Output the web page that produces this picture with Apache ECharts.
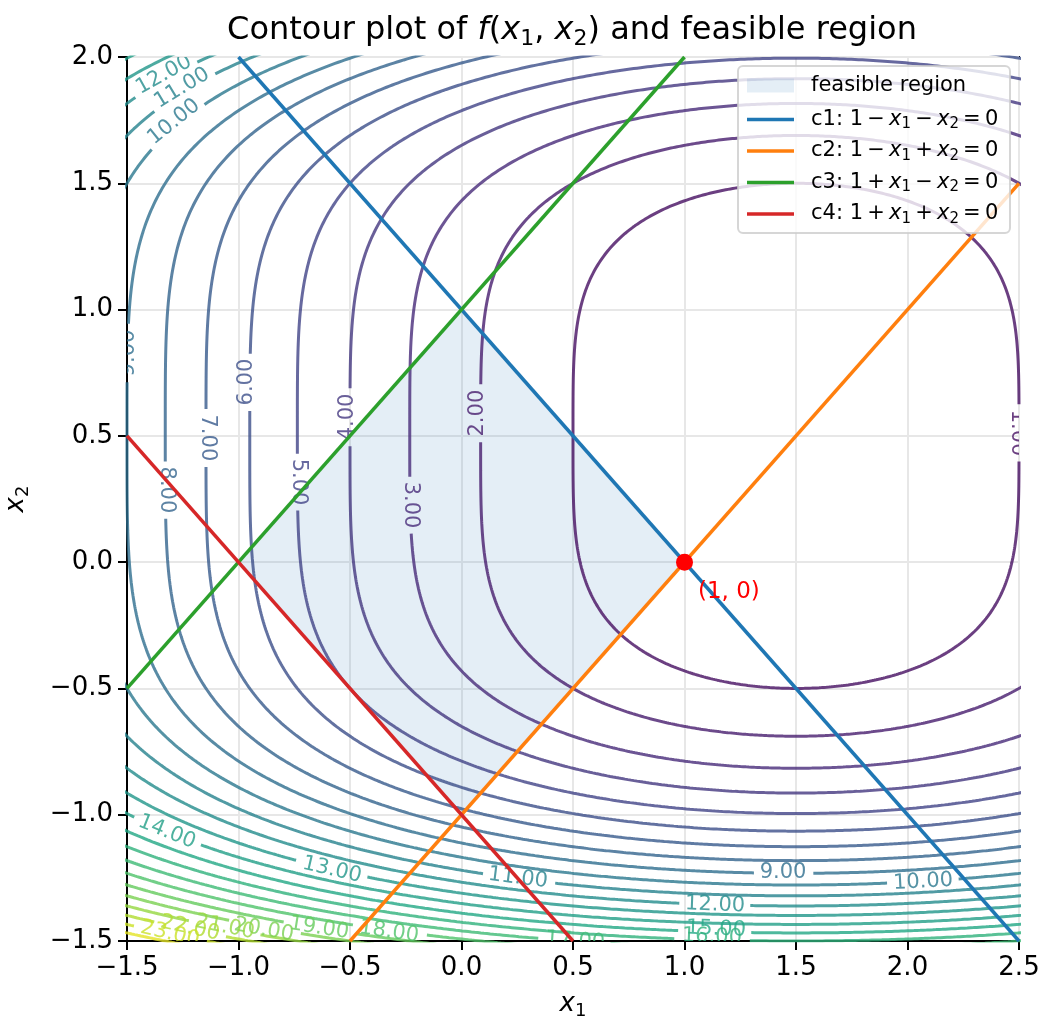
<!DOCTYPE html>
<html><head><meta charset="utf-8">
<script src="https://cdn.jsdelivr.net/npm/echarts@6/dist/echarts.min.js"></script>
<style>html,body{margin:0;padding:0;background:#fff}#chart{width:1042px;height:1023px}</style>
</head><body><div id="chart"></div>
<script>
// ---------------- data ----------------
// f(x1, x2) = (x1 - 3/2)^2 + (x2 - 1/2)^4
const fCenterX1 = 1.5;
const fCenterX2 = 0.5;
const contourLevels = [1,2,3,4,5,6,7,8,9,10,11,12,13,14,15,16,17,18,19,20,21,22,23,24];
const levelMin = 0, levelMax = 25;

const xTicks = [-1.5,-1.0,-0.5,0.0,0.5,1.0,1.5,2.0,2.5];
const yTicks = [-1.5,-1.0,-0.5,0.0,0.5,1.0,1.5,2.0];

const feasibleX1 = [1, 0, -1, 0];
const feasibleX2 = [0, 1, 0, -1];

const c1X1 = [-1.0, 2.5], c1X2 = [2.0, -1.5];
const c2X1 = [-0.5, 2.5], c2X2 = [-1.5, 1.5];
const c3X1 = [-1.5, 1.0], c3X2 = [-0.5, 2.0];
const c4X1 = [-1.5, 0.5], c4X2 = [0.5, -1.5];

const optimumX1 = [1.0];
const optimumX2 = [0.0];

// inline contour labels
const labelLevels = [1, 2, 3, 4, 5, 6, 7, 8, 9, 10, 11, 12, 14, 13, 11, 9, 10, 12, 15, 16, 17, 18, 19, 20, 21, 22, 23];
const labelX1 = [2.491, 0.074, -0.231, -0.509, -0.729, -0.962, -1.141, -1.321, -1.491, -1.289, -1.253, -1.334, -1.321, -0.581, 0.253, 1.442, 2.070, 1.137, 1.141, 1.123, 0.509, -0.325, -0.639, -0.886, -1.061, -1.217, -1.307];
const labelX2 = [0.511, 0.590, 0.226, 0.575, 0.317, 0.713, 0.492, 0.286, 0.828, 1.743, 1.877, 1.929, -1.068, -1.219, -1.251, -1.227, -1.266, -1.357, -1.453, -1.484, -1.500, -1.464, -1.449, -1.456, -1.445, -1.449, -1.472];
const labelAngles = [-90, 90, -90, 90, -90, 90, -90, -90, 90, 39, 31, 29, -22, -13, -7, 0, 3, -2, -2, -2, -4, -8, -9, -10, -11, -12, -13];

// ---------------- layout / style ----------------
const FONT = 'DejaVu Sans';
const gridLeft = 127, gridTop = 57, gridW = 892, gridH = 884;
const xMin = -1.5, xMax = 2.5, yMin = -1.5, yMax = 2.0;
const pxPerX = gridW / (xMax - xMin), pxPerY = gridH / (yMax - yMin);
const labelFont = 21;

const VIR = [[68,1,84],[72,36,117],[65,68,135],[53,95,141],[42,120,142],[33,145,140],[34,168,132],[68,191,112],[122,209,81],[189,223,38],[253,231,37]];
function viridis(t){
  t = Math.max(0, Math.min(1, t));
  const s = t * 10, i = Math.min(9, Math.floor(s)), f = s - i;
  const a = VIR[i], b = VIR[i+1];
  return [0,1,2].map(k => Math.round(a[k] + (b[k]-a[k]) * f));
}
function levelColor(c){
  const v = viridis((c - levelMin) / (levelMax - levelMin));
  return 'rgba(' + v[0] + ',' + v[1] + ',' + v[2] + ',0.8)';
}
function labelHalfGap(c){
  const digits = c.toFixed(2).length - 1;
  return labelFont * (0.636 * digits + 0.318) / 2 + 5;
}
function inGap(c, x1, x2){
  for (let i = 0; i < labelLevels.length; i++){
    if (labelLevels[i] !== c) continue;
    const dx = (x1 - labelX1[i]) * pxPerX, dy = (x2 - labelX2[i]) * pxPerY;
    if (Math.sqrt(dx*dx + dy*dy) < labelHalfGap(c)) return true;
  }
  return false;
}
function mathRich(size){
  const lh = Math.round(size * 1.2);
  const sub = Math.round(size * 0.7);
  const subLh = Math.round(lh - 2 * size * 0.2);
  return {
    n: { fontSize: size, fontFamily: FONT, color: '#000', lineHeight: lh },
    i: { fontSize: size, fontFamily: FONT, color: '#000', fontStyle: 'italic', lineHeight: lh },
    s: { fontSize: sub, fontFamily: FONT, color: '#000', lineHeight: subLh, verticalAlign: 'bottom' }
  };
}

const series = [];

// feasible region
series.push({
  type: 'custom', name: 'feasible region', z: 1, silent: true, animation: false,
  itemStyle: { color: 'rgba(31,119,180,0.12)' },
  data: [[0, 0]],
  renderItem: function(params, api){
    const pts = feasibleX1.map((x, i) => api.coord([x, feasibleX2[i]]));
    return { type: 'polygon', shape: { points: pts }, style: { fill: 'rgba(31,119,180,0.12)' } };
  }
});

// contour lines (level sets of f)
contourLevels.forEach(c => {
  const pts = [];
  const N = 2400;
  let broken = false;
  const a = Math.pow(c, 0.25), b = Math.sqrt(c);
  for (let k = 0; k <= N; k++){
    const t = 2 * Math.PI * k / N;
    const s = Math.sin(t), co = Math.cos(t);
    const x2 = fCenterX2 + a * s;
    const x1 = fCenterX1 + b * co * Math.sqrt(1 + s * s);
    if (inGap(c, x1, x2)){
      if (!broken && pts.length) pts.push(['-', '-']);
      broken = true;
      continue;
    }
    broken = false;
    pts.push([x1, x2]);
  }
  series.push({
    type: 'line', name: 'level ' + c, data: pts, showSymbol: false, symbol: 'none',
    lineStyle: { color: levelColor(c), width: 3 }, z: 2, silent: true, animation: false, clip: true
  });
});

// contour labels
series.push({
  type: 'custom', z: 3, clip: true, silent: true, animation: false,
  data: labelLevels.map((lv, i) => [labelX1[i], labelX2[i], labelAngles[i], lv]),
  renderItem: function(params, api){
    const p = api.coord([api.value(0), api.value(1)]);
    const lv = api.value(3);
    return {
      type: 'text', x: p[0], y: p[1], rotation: api.value(2) * Math.PI / 180,
      style: { text: lv.toFixed(2), fill: levelColor(lv), fontSize: labelFont, fontFamily: FONT,
               align: 'center', verticalAlign: 'middle', textAlign: 'center', textVerticalAlign: 'middle' }
    };
  }
});

// constraints
const lineDefs = [
  { name: 'c1', x: c1X1, y: c1X2, color: '#1f77b4' },
  { name: 'c2', x: c2X1, y: c2X2, color: '#ff7f0e' },
  { name: 'c3', x: c3X1, y: c3X2, color: '#2ca02c' },
  { name: 'c4', x: c4X1, y: c4X2, color: '#d62728' }
];
lineDefs.forEach(d => {
  series.push({
    type: 'line', name: d.name, data: d.x.map((x, i) => [x, d.y[i]]), showSymbol: false, symbol: 'none',
    itemStyle: { color: d.color }, lineStyle: { color: d.color, width: 3.5 }, z: 4, silent: true, animation: false
  });
});

// optimum
series.push({
  type: 'scatter', name: 'opt', data: optimumX1.map((x, i) => [x, optimumX2[i]]), symbolSize: 17, z: 5,
  itemStyle: { color: '#ff0000', opacity: 1 }, silent: true, animation: false,
  label: { show: true, formatter: '(1, 0)', position: 'right', distance: 5, offset: [0, 30],
           color: '#ff0000', fontSize: 23, fontFamily: FONT }
});

const legendRich = mathRich(21);
const TS = '\u2009';
const legendText = {
  'feasible region': '{n|feasible region}',
  'c1': '{n|c1: 1' + TS + '−' + TS + '}{i|x}{s|1}{n|' + TS + '−' + TS + '}{i|x}{s|2}{n|' + TS + '=' + TS + '0}',
  'c2': '{n|c2: 1' + TS + '−' + TS + '}{i|x}{s|1}{n|' + TS + '+' + TS + '}{i|x}{s|2}{n|' + TS + '=' + TS + '0}',
  'c3': '{n|c3: 1' + TS + '+' + TS + '}{i|x}{s|1}{n|' + TS + '−' + TS + '}{i|x}{s|2}{n|' + TS + '=' + TS + '0}',
  'c4': '{n|c4: 1' + TS + '+' + TS + '}{i|x}{s|1}{n|' + TS + '+' + TS + '}{i|x}{s|2}{n|' + TS + '=' + TS + '0}'
};

function tickFmt(v){ return (v < 0 ? '−' : '') + Math.abs(v).toFixed(1); }

const axisCommon = {
  type: 'value', interval: 0.5,
  axisLine: { show: true, onZero: false, lineStyle: { color: '#000', width: 2 } },
  axisTick: { show: true, length: 9, lineStyle: { color: '#000', width: 2 } },
  axisLabel: { fontSize: 26, color: '#000', fontFamily: FONT, margin: 14, formatter: tickFmt },
  splitLine: { show: true, lineStyle: { color: '#e7e7e7', width: 2 } },
  nameTextStyle: { fontSize: 26, fontFamily: FONT, color: '#000', rich: mathRich(26) }
};

const option = {
  animation: false,
  backgroundColor: '#fff',
  title: {
    text: '{n|Contour plot of }{i|f}{n|(}{i|x}{s|1}{n|, }{i|x}{s|2}{n|) and feasible region}',
    left: 567, top: 7, textAlign: 'center',
    textStyle: { fontSize: 32, fontWeight: 'normal', fontFamily: FONT, color: '#000', rich: mathRich(32) }
  },
  grid: { left: gridLeft, top: gridTop, width: gridW, height: gridH, show: true, borderColor: '#000', borderWidth: 2,
          backgroundColor: 'transparent', containLabel: false, outerBoundsMode: 'none' },
  xAxis: Object.assign({}, axisCommon, { min: xMin, max: xMax,
    name: '{i|x}{s|1}', nameLocation: 'middle', nameGap: 48 }),
  yAxis: Object.assign({}, axisCommon, { min: yMin, max: yMax,
    name: '{i|x}{s|2}', nameLocation: 'middle', nameGap: 95, nameRotate: 90 }),
  legend: [
    { data: [{ name: 'feasible region', icon: 'rect' }], left: 747, top: 75, itemWidth: 47, itemHeight: 14, padding: 0,
      selectedMode: false, z: 7, formatter: n => legendText[n],
      textStyle: { fontSize: 21, fontFamily: FONT, color: '#000', padding: [0, 0, 0, 12], rich: legendRich } },
    { data: lineDefs.map(d => ({ name: d.name, icon: 'rect' })), orient: 'vertical', left: 747, top: 109,
      itemWidth: 47, itemHeight: 3.5, itemGap: 8.5, padding: 0, selectedMode: false, z: 7, formatter: n => legendText[n],
      textStyle: { fontSize: 21, fontFamily: FONT, color: '#000', padding: [0, 0, 0, 12], rich: legendRich } }
  ],
  graphic: [
    { type: 'rect', z: 6, shape: { x: 738, y: 66, width: 272, height: 167, r: 5 },
      style: { fill: 'rgba(255,255,255,0.8)', stroke: 'rgba(204,204,204,0.8)', lineWidth: 2 } }
  ],
  series: series
};

const chart = echarts.init(document.getElementById('chart'), null, { renderer: 'canvas' });
chart.setOption(option);
</script>
</body></html>
